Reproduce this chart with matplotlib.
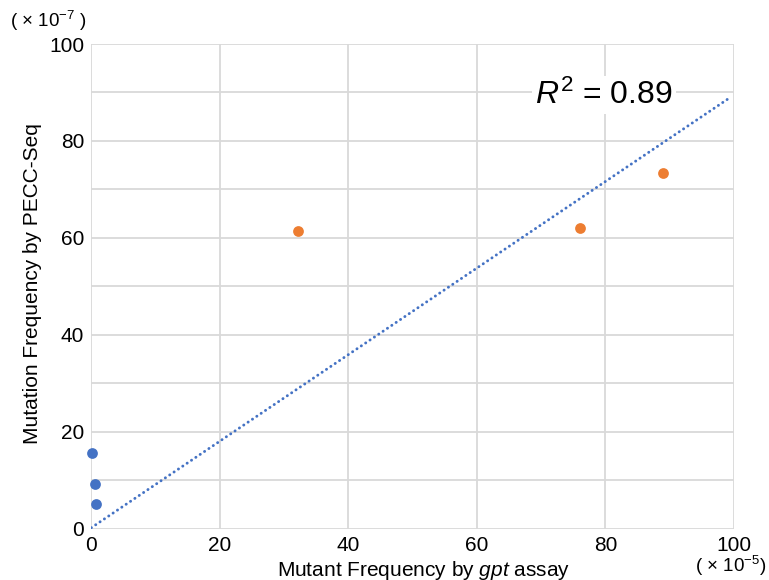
import matplotlib
matplotlib.use("Agg")
import matplotlib.pyplot as plt
import numpy as np

plt.rcParams['font.family'] = ['Liberation Sans', 'DejaVu Sans']
plt.rcParams['mathtext.fontset'] = 'custom'
plt.rcParams['mathtext.rm'] = 'Liberation Sans'
plt.rcParams['mathtext.it'] = 'Liberation Sans:italic'
plt.rcParams['mathtext.bf'] = 'Liberation Sans:bold'

# Data
blue_x = [0.1, 0.5, 0.7]
blue_y = [15.6, 9.2, 5.0]
orange_x = [32.2, 76.1, 88.9]
orange_y = [61.5, 62.1, 73.4]
trend_slope = 0.893
trend_intercept = 0.2
trend_x = [0, 99.3]
xticks = [0, 20, 40, 60, 80, 100]
yticks = [0, 20, 40, 60, 80, 100]
r2_text = "$\\mathit{R}^{2}$ = 0.89"

fig = plt.figure(figsize=(7.69, 5.80), dpi=100)
ax = fig.add_axes([91.3/769, 1-528.7/580, (734-91.3)/769, (528.7-44)/580])

ax.set_xlim(0, 100)
ax.set_ylim(0, 100)
ax.set_xticks(xticks)
ax.set_yticks(yticks)
ax.set_yticks(np.arange(0, 101, 10), minor=True)
ax.grid(True, which='major', color='#d9d9d9', linewidth=1.3)
ax.grid(True, which='minor', axis='y', color='#d9d9d9', linewidth=1.3)
ax.tick_params(which='both', length=0, labelsize=15, pad=5)
for s in ax.spines.values():
    s.set_visible(False)
ax.set_axisbelow(True)

tx = np.array(trend_x, dtype=float)
ty = trend_slope * tx + trend_intercept
ax.plot(tx, ty, color='#4472C4', linewidth=2.1, linestyle=(0, (0.05, 1.75)),
        dash_capstyle='round', zorder=3)

ax.scatter(blue_x, blue_y, s=60, color='#4472C4', zorder=4, clip_on=False, linewidths=0)
ax.scatter(orange_x, orange_y, s=60, color='#ED7D31', zorder=4, clip_on=False, linewidths=0)

ax.text(604/769, 1-95/580, r2_text, transform=fig.transFigure, fontsize=23,
        ha='center', va='center', zorder=5,
        bbox=dict(facecolor='white', edgecolor='none', pad=2))

fig.text(33/769, 1-284/580, "Mutation Frequency by PECC-Seq", rotation=90,
         ha='center', va='center', fontsize=15)
fig.text(424/769, 1-570/580, "Mutant Frequency by $\\mathit{gpt}$ assay",
         ha='center', va='center', fontsize=15)
fig.text(48/769, 1-21/580, "( \u00d7 10$^{-7}$ )", ha='center', va='center', fontsize=13.5)
fig.text(731/769, 1-566/580, "( \u00d7 10$^{-5}$)", ha='center', va='center', fontsize=13.5)

fig.savefig("out.png", dpi=100)
